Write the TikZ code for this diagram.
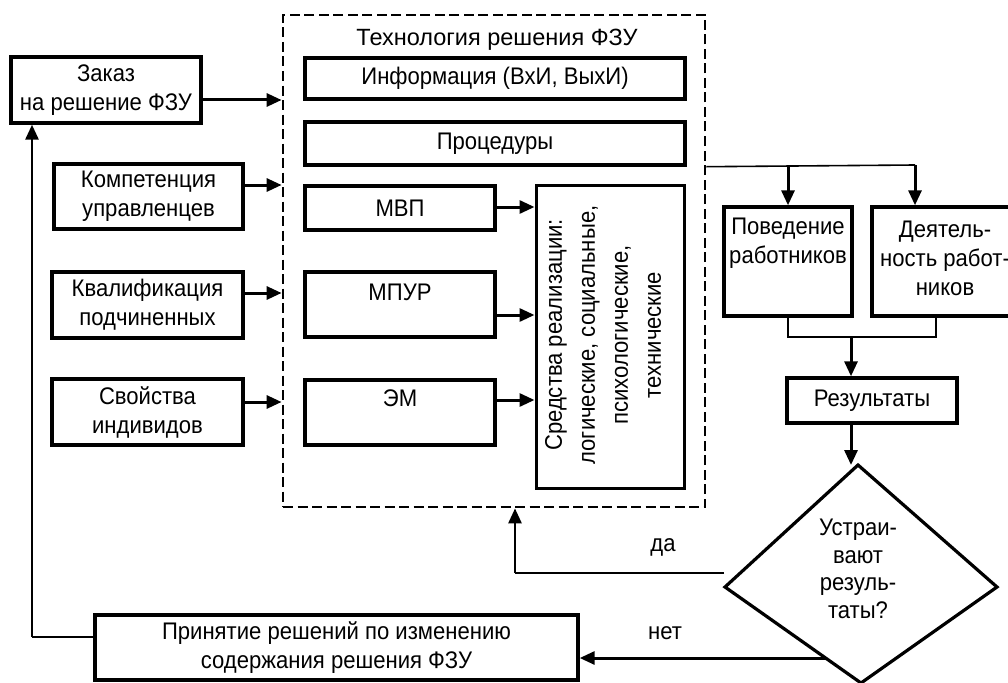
\documentclass[tikz,border=0pt]{standalone}
\usepackage{fontspec}
\setmainfont{Liberation Sans}[FakeStretch=0.92]
\newfontfamily\titlefam{Liberation Sans}
\usetikzlibrary{arrows.meta,calc}
\newcommand\dfont{\fontsize{24}{29}\selectfont}
\begin{document}
\begin{tikzpicture}[x=1pt,y=-1pt,
  box/.style={draw,line width=3.4pt,inner sep=0pt,align=center,font=\dfont},
  txt/.style={inner sep=0pt,align=center,font=\dfont},
  arr/.style={line width=3pt,-{Triangle[length=15pt,width=13pt]}},
  thinln/.style={line width=1.6pt},
  dashbox/.style={draw,line width=2.8pt,dash pattern=on 10pt off 4.5pt,inner sep=0pt}]
\useasboundingbox (0,0) rectangle (1008,682);
\clip (0,0) rectangle (1008,682);
% left boxes
\node[box,minimum width=190pt,minimum height=66pt] (zakaz) at (106,90) {Заказ\\на решение ФЗУ};
\node[box,minimum width=189pt,minimum height=65pt] (komp) at (148.5,196.5) {Компетенция\\управленцев};
\node[box,minimum width=191pt,minimum height=66pt] (kval) at (147.5,305) {Квалификация\\подчиненных};
\node[box,minimum width=191pt,minimum height=66pt] (svoi) at (147.5,412) {Свойства\\индивидов};
% dashed technology box
\node[dashbox,minimum width=422pt,minimum height=492pt] (dash) at (494,261) {};
\node[txt,font=\titlefam\fontsize{23.5}{29}\selectfont] (title) at (497,40) {Технология решения ФЗУ};
\node[box,minimum width=380pt,minimum height=41pt] (info) at (495,78.5) {Информация (ВхИ, ВыхИ)};
\node[box,minimum width=380pt,minimum height=43pt] (proc) at (495,143.5) {Процедуры};
\node[box,minimum width=190pt,minimum height=44pt] (mvp) at (400,208) {МВП};
\node[box,minimum width=190pt,minimum height=65pt] (mpur) at (400,304.5) {};
\node[txt] (mpurt) at (400,292) {МПУР};
\node[box,minimum width=190pt,minimum height=65pt] (em) at (400,412.5) {};
\node[txt] (emt) at (400,398) {ЭМ};
\node[box,line width=3pt,minimum width=148pt,minimum height=303pt] (sred) at (610,336.5) {};
\node[txt,rotate=90,font=\fontsize{24}{33}\selectfont] (sredt) at (603,335) {Средства реализации:\\логические, социальные,\\психологические,\\технические};
% right side
\node[box,minimum width=128pt,minimum height=109pt] (pov) at (788,261.5) {};
\node[txt] (povt) at (788,243) {Поведение\\работников};
\node[box,minimum width=152pt,minimum height=109pt] (deyat) at (948,261.5) {};
\node[txt] (deyatt) at (945,258) {Деятель-\\ность работ-\\ников};
\node[box,minimum width=170pt,minimum height=45pt] (res) at (872,400.5) {Результаты};
\coordinate (dT) at (858,465);
\coordinate (dR) at (997,587);
\coordinate (dB) at (861,683);
\coordinate (dL) at (725,587);
\draw[line width=3.2pt,line join=miter] (dT) -- (dR) -- (dB) -- (dL) -- cycle;
\node[txt,font=\fontsize{24}{27.5}\selectfont] (romb) at (858,569) {Устраи-\\вают\\резуль-\\таты?};
\node[box,minimum width=483pt,minimum height=65pt] (prin) at (336.5,647.5) {Принятие решений по изменению\\содержания решения ФЗУ};
\node[txt] (da) at (663,547) {да};
\node[txt] (net) at (665,633) {нет};
% arrows from left boxes
\coordinate (z1) at ($(zakaz.east)+(0,10)$);
\coordinate (k1) at ($(komp.east)+(0,-11.5)$);
\coordinate (q1) at ($(kval.east)+(0,-12)$);
\coordinate (s1) at ($(svoi.east)+(0,-10)$);
\draw[arr] (z1) -- (z1 -| dash.west);
\draw[arr] (k1) -- (k1 -| dash.west);
\draw[arr] (q1) -- (q1 -| dash.west);
\draw[arr] (s1) -- (s1 -| dash.west);
% arrows into means box
\coordinate (a1) at ($(mvp.east)+(0,-1)$);
\coordinate (a2) at ($(mpur.east)+(0,10.5)$);
\coordinate (a3) at ($(em.east)+(0,-12.5)$);
\draw[arr] (a1) -- (a1 -| sred.west);
\draw[arr] (a2) -- (a2 -| sred.west);
\draw[arr] (a3) -- (a3 -| sred.west);
% right branch
\coordinate (j1) at (dash.east |- proc.south);
\coordinate (j3) at (915,165);
\draw[thinln] (j1) -- (j3);
\draw[arr] (j1 -| pov.north) -- (pov.north);
\draw[arr] (j3) -- (j3 |- deyat.north);
\coordinate (m1) at (936,337);
\coordinate (m2) at (851,337);
\draw[thinln] (pov.south) |- (m1) -- (m1 |- deyat.south);
\draw[arr] (m2) -- (m2 |- res.north);
\draw[arr] (m2 |- res.south) -- (m2 |- dT);
% yes branch
\coordinate (y1) at (724,573);
\coordinate (y2) at (515,573);
\draw[line width=2pt] (y1) -- (y2);
\draw[line width=2.7pt,-{Triangle[length=15pt,width=13pt]}] (y2) -- (y2 |- dash.south);
% no branch
\coordinate (n1) at (826,658);
\draw[arr] (n1) -- (n1 -| prin.east);
% feedback
\coordinate (f1) at (32,637);
\draw[thinln] (prin.west |- f1) -- (f1);
\draw[line width=2.8pt,-{Triangle[length=15pt,width=13pt]}] (f1) -- (f1 |- zakaz.south);
\end{tikzpicture}
\end{document}
